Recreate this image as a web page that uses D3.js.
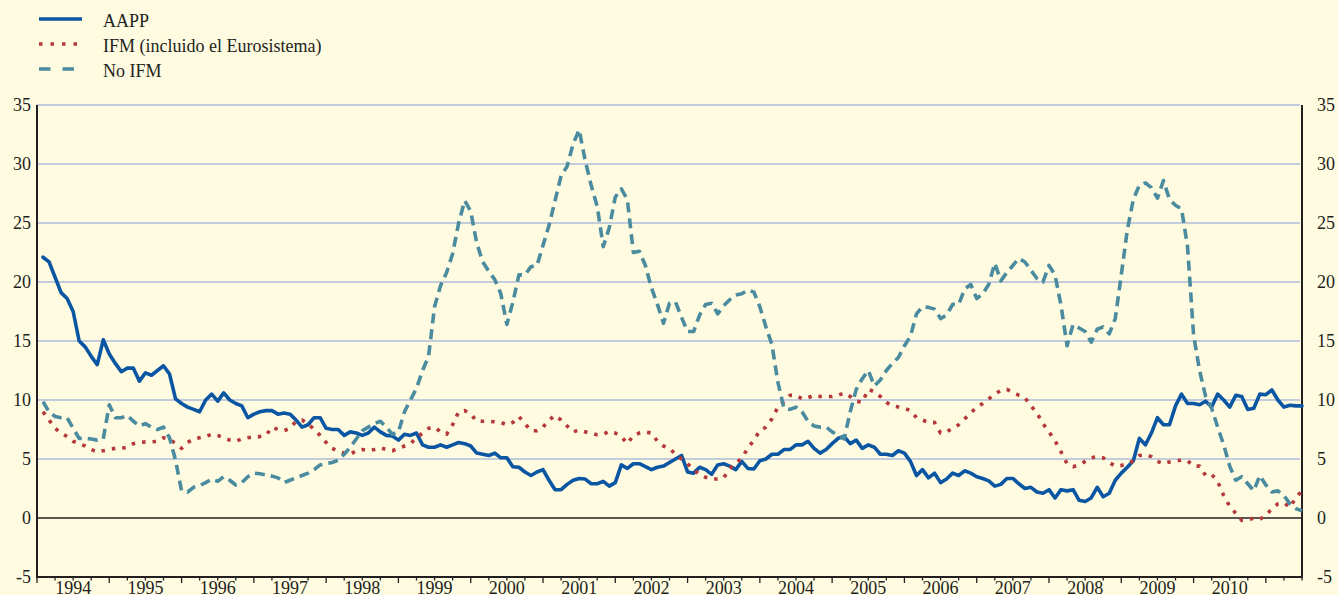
<!DOCTYPE html>
<html>
<head>
<meta charset="utf-8">
<script src="https://cdn.jsdelivr.net/npm/d3@7"></script>
<style>
  body { margin: 0; background: #fefbe1; }
  svg { display: block; font-family: "Liberation Serif", "Times New Roman", serif; }
</style>
</head>
<body>
<svg id="chart" width="1338" height="595"></svg>
<script>
// monthly series, Jan 1994 - Jun 2011 (%)
const aapp = [
  22.1, 21.7, 20.4, 19.1, 18.6, 17.5, 15.0, 14.5, 13.7, 13.0,
  15.1, 13.9, 13.1, 12.4, 12.7, 12.7, 11.6, 12.3, 12.1, 12.5,
  12.9, 12.2, 10.1, 9.7, 9.4, 9.2, 9.0, 10.0, 10.5, 9.9,
  10.6, 10.0, 9.7, 9.5, 8.5, 8.8, 9.0, 9.1, 9.1, 8.8,
  8.9, 8.8, 8.3, 7.7, 7.9, 8.5, 8.5, 7.6, 7.5, 7.5,
  7.0, 7.3, 7.2, 7.0, 7.2, 7.7, 7.3, 7.0, 6.95, 6.6,
  7.1, 7.0, 7.2, 6.2, 6.0, 6.0, 6.2, 6.0, 6.2, 6.4,
  6.3, 6.1, 5.5, 5.4, 5.3, 5.5, 5.1, 5.1, 4.35, 4.3,
  3.9, 3.6, 3.9, 4.1, 3.2, 2.4, 2.4, 2.85, 3.2, 3.35,
  3.3, 2.9, 2.9, 3.1, 2.7, 3.0, 4.5, 4.2, 4.6, 4.6,
  4.35, 4.1, 4.3, 4.4, 4.7, 5.0, 5.3, 3.9, 3.8, 4.3,
  4.1, 3.7, 4.5, 4.6, 4.4, 4.1, 4.8, 4.2, 4.15, 4.85,
  5.0, 5.4, 5.4, 5.8, 5.8, 6.2, 6.2, 6.5, 5.9, 5.5,
  5.8, 6.3, 6.75, 6.9, 6.3, 6.6, 5.9, 6.2, 6.0, 5.4,
  5.4, 5.3, 5.7, 5.5, 4.8, 3.6, 4.1, 3.4, 3.8, 3.0,
  3.3, 3.8, 3.6, 4.0, 3.8, 3.5, 3.35, 3.15, 2.7, 2.85,
  3.35, 3.35, 2.9, 2.5, 2.6, 2.2, 2.1, 2.4, 1.7, 2.4,
  2.3, 2.4, 1.5, 1.4, 1.7, 2.6, 1.8, 2.1, 3.2, 3.8,
  4.3, 4.85, 6.75, 6.2, 7.2, 8.5, 7.9, 7.9, 9.5, 10.5,
  9.7, 9.7, 9.6, 9.9, 9.4, 10.5, 10.0, 9.4, 10.4, 10.3,
  9.2, 9.3, 10.5, 10.45, 10.85, 10.0, 9.4, 9.55, 9.5, 9.5
];
const ifm = [
  9.0, 8.3, 7.6, 7.2, 6.9, 6.5, 6.3, 6.1, 5.8, 5.6,
  5.7, 5.8, 5.9, 5.9, 6.0, 6.3, 6.4, 6.45, 6.45, 6.5,
  6.8, 6.7, 6.3, 5.9, 6.4, 6.7, 6.8, 6.9, 7.1, 7.0,
  6.8, 6.6, 6.5, 6.7, 6.8, 6.9, 6.9, 7.0, 7.7, 7.5,
  7.4, 7.6, 8.2, 8.3, 8.0, 7.5, 7.0, 6.4, 5.9, 5.65,
  5.5, 5.4, 5.7, 5.8, 5.7, 5.8, 5.95, 5.8, 5.7, 5.9,
  6.1, 6.3, 6.8, 7.2, 7.6, 7.7, 7.3, 7.1, 7.9, 9.0,
  9.1, 8.8, 8.2, 8.2, 8.2, 8.15, 8.1, 7.9, 8.1, 8.6,
  8.0, 7.4, 7.4, 7.7, 8.3, 8.7, 8.3, 7.8, 7.3, 7.45,
  7.3, 7.2, 7.05, 7.1, 7.35, 7.2, 6.9, 6.3, 7.0, 7.2,
  7.3, 7.2, 6.5, 6.1, 5.9, 5.4, 5.0, 4.6, 4.1, 3.7,
  3.45, 3.3, 3.3, 3.4, 4.2, 4.6, 5.1, 5.9, 6.6, 7.4,
  7.7, 8.4, 9.4, 9.9, 10.4, 10.4, 10.1, 10.2, 10.4, 10.3,
  10.3, 10.3, 10.4, 10.6, 10.3, 9.9, 9.8, 10.9, 10.7, 10.3,
  9.8, 9.5, 9.4, 9.3, 9.1, 8.5, 8.3, 8.1, 8.1, 7.2,
  7.3, 7.6, 7.9, 8.4, 8.9, 9.4, 9.7, 10.1, 10.5, 10.8,
  10.9, 10.65, 10.4, 10.2, 9.5, 8.9, 8.0, 7.3, 6.55, 5.6,
  4.6, 4.35, 4.5, 4.8, 5.1, 5.2, 5.1, 4.7, 4.4, 4.45,
  4.6, 4.85, 5.3, 5.35, 5.2, 4.8, 4.6, 4.75, 4.85, 4.9,
  4.85, 4.4, 4.4, 3.6, 3.7, 3.1, 1.9, 1.0, 0.4, -0.2,
  -0.15, 0.0, -0.1, 0.2, 0.8, 1.2, 1.3, 0.9, 1.75, 2.3
];
const noIfm = [
  9.85, 9.0, 8.6, 8.5, 8.5, 7.6, 6.75, 6.75, 6.7, 6.6,
  6.7, 9.6, 8.5, 8.5, 8.7, 8.2, 7.8, 8.0, 7.7, 7.5,
  7.7, 6.8, 4.9, 2.3, 2.2, 2.6, 2.75, 3.0, 3.3, 3.1,
  3.5, 3.2, 2.8, 3.0, 3.5, 3.8, 3.75, 3.65, 3.55, 3.4,
  3.0, 3.2, 3.4, 3.6, 3.8, 4.1, 4.5, 4.6, 4.7, 4.9,
  5.4, 6.0, 6.7, 7.4, 7.7, 8.0, 8.2, 7.7, 7.1, 7.3,
  9.0, 10.0, 11.0, 12.5, 13.7, 17.9, 19.7, 20.8, 22.4, 25.0,
  26.9, 26.0, 23.3, 21.7, 20.9, 20.2, 19.0, 16.4, 18.3, 20.6,
  20.6, 21.3, 21.4, 23.1, 24.8, 26.9, 29.0, 29.8, 31.7, 32.9,
  30.3, 28.2, 26.4, 23.0, 24.6, 27.2, 27.9, 27.0, 22.5, 22.6,
  21.4, 19.5, 18.1, 16.5, 18.2, 18.3, 17.0, 15.8, 15.8, 17.2,
  18.1, 18.2, 17.3, 18.0, 18.5, 18.9, 19.0, 19.3, 19.15, 17.9,
  16.2, 14.7, 11.5, 9.3, 9.2, 9.4, 9.0, 8.2, 7.8, 7.7,
  7.7, 7.3, 7.0, 6.7, 9.0, 10.9, 11.8, 12.5, 11.2, 11.7,
  12.5, 13.1, 13.6, 14.6, 15.4, 17.3, 17.9, 17.85, 17.7, 16.9,
  17.2, 18.1, 18.1, 19.4, 19.8, 18.6, 19.0, 19.8, 21.6, 20.1,
  20.8, 21.4, 22.0, 21.7, 21.0, 20.3, 20.0, 21.4, 20.6, 18.0,
  14.6, 16.4, 16.1, 15.8, 14.9, 16.0, 16.2, 15.6, 16.9, 20.6,
  24.4, 27.0, 28.2, 28.4, 28.0, 27.1, 28.6, 27.0, 26.5, 26.2,
  23.0, 15.5, 12.5, 10.3, 9.3, 7.7, 6.2, 4.4, 3.2, 3.5,
  2.9, 2.3, 3.6, 2.8, 2.2, 2.3, 1.9, 1.2, 0.8, 0.6
];

const startYear = 1994;
const endYear = 2011.5;
const years = [1994, 1995, 1996, 1997, 1998, 1999, 2000, 2001, 2002,
  2003, 2004, 2005, 2006, 2007, 2008, 2009, 2010];
const yTicks = [-5, 0, 5, 10, 15, 20, 25, 30, 35];

const seriesNames = ['AAPP', 'IFM (incluido el Eurosistema)', 'No IFM'];
const seriesColors = ['#0b56a3', '#b5383a', '#4b8b9f'];

const svg = d3.select('#chart');
const plotLeft = 37, plotRight = 1302, plotTop = 105, plotBottom = 577;
const fontSize = 18;

const x = d3.scaleLinear().domain([startYear, endYear]).range([plotLeft, plotRight]);
const y = d3.scaleLinear().domain([-5, 35]).range([plotBottom, plotTop]);

// month i is plotted at the end of the month
const monthTime = i => startYear + (i + 1) / 12;

// grid
svg.append('g')
  .selectAll('line')
  .data(yTicks.filter(d => d > 0))
  .join('line')
  .attr('x1', plotLeft).attr('x2', plotRight - 2)
  .attr('y1', d => y(d)).attr('y2', d => y(d))
  .attr('stroke', '#aebcd9').attr('stroke-width', 1.6);

// y labels, both sides
const yl = svg.append('g').attr('font-size', fontSize).attr('fill', '#231f20');
yl.selectAll('text.l').data(yTicks).join('text')
  .attr('class', 'l')
  .attr('x', 31).attr('y', d => y(d)).attr('dy', '0.33em')
  .attr('text-anchor', 'end')
  .text(d => d);
yl.selectAll('text.r').data(yTicks).join('text')
  .attr('class', 'r')
  .attr('x', 1317).attr('y', d => y(d)).attr('dy', '0.33em')
  .text(d => d);

// x axis: quarterly ticks, longer at year starts
const quarters = d3.range(startYear, endYear + 0.001, 0.25);
svg.append('g')
  .selectAll('line')
  .data(quarters)
  .join('line')
  .attr('x1', d => x(d)).attr('x2', d => x(d))
  .attr('y1', plotBottom)
  .attr('y2', d => plotBottom + (Number.isInteger(d) ? 6 : 3.5))
  .attr('stroke', '#231f20').attr('stroke-width', 1.3);

svg.append('g')
  .attr('font-size', fontSize).attr('fill', '#231f20')
  .selectAll('text')
  .data(years)
  .join('text')
  .attr('x', d => x(d + 0.5))
  .attr('y', 594)
  .attr('text-anchor', 'middle')
  .text(d => d);

// frame
svg.append('line')
  .attr('x1', plotLeft).attr('x2', plotRight).attr('y1', plotBottom).attr('y2', plotBottom)
  .attr('stroke', '#231f20').attr('stroke-width', 2);
svg.append('line')
  .attr('x1', plotLeft).attr('x2', plotRight).attr('y1', y(0)).attr('y2', y(0))
  .attr('stroke', '#231f20').attr('stroke-width', 1.6);
svg.append('line')
  .attr('x1', plotLeft).attr('x2', plotLeft).attr('y1', plotTop).attr('y2', plotBottom + 1)
  .attr('stroke', '#231f20').attr('stroke-width', 2);
svg.append('line')
  .attr('x1', plotRight).attr('x2', plotRight).attr('y1', plotTop).attr('y2', plotBottom + 1)
  .attr('stroke', '#231f20').attr('stroke-width', 2);

// lines
const line = d3.line()
  .x((d, i) => x(monthTime(i)))
  .y(d => y(d));

const series = [
  { values: aapp, color: seriesColors[0], dash: null, cap: 'round' },
  { values: ifm, color: seriesColors[1], dash: '3.5,7', cap: 'butt' },
  { values: noIfm, color: seriesColors[2], dash: '10,6', cap: 'butt' },
];

series.forEach(s => {
  svg.append('path')
    .datum(s.values)
    .attr('d', line)
    .attr('fill', 'none')
    .attr('stroke', s.color)
    .attr('stroke-width', 3.6)
    .attr('stroke-linejoin', 'round')
    .attr('stroke-linecap', s.cap)
    .attr('stroke-dasharray', s.dash);
});

// legend
const legend = svg.append('g');
const legendDash = [null, '3.5,8', '11.5,12'];
seriesNames.forEach((name, i) => {
  const ly = 19 + i * 25;
  legend.append('line')
    .attr('x1', 39).attr('x2', 82).attr('y1', ly).attr('y2', ly)
    .attr('stroke', seriesColors[i])
    .attr('stroke-width', 3.6)
    .attr('stroke-dasharray', legendDash[i]);
  legend.append('text')
    .attr('x', 103).attr('y', ly + 8)
    .attr('font-size', fontSize).attr('fill', '#231f20')
    .text(name);
});
</script>
</body>
</html>
